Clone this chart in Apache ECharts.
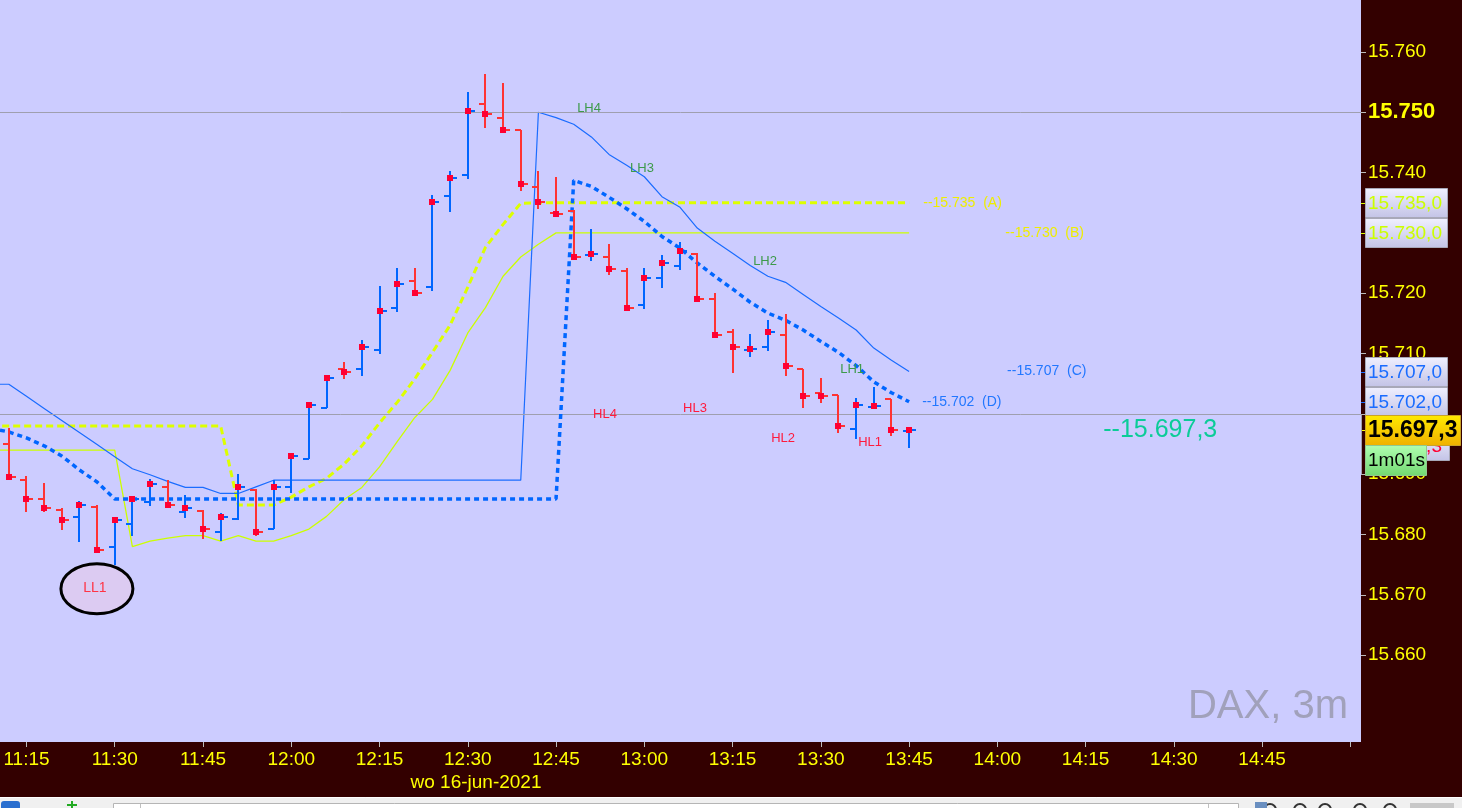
<!DOCTYPE html>
<html><head><meta charset="utf-8">
<script src="https://cdn.jsdelivr.net/npm/echarts@6/dist/echarts.min.js"></script>
<style>html,body{margin:0;padding:0;background:#330000;overflow:hidden}#c{width:1462px;height:808px}</style>
</head><body><div id="c"></div>
<script>
const FONT = '"Liberation Sans", Arial, sans-serif';

// ---- time axis (3-minute bars, bar 0 = 11:12) ----
const firstBarTime = '11:12';
const tickLabels = ['11:15','11:30','11:45','12:00','12:15','12:30','12:45','13:00','13:15','13:30','13:45','14:00','14:15','14:30','14:45'];
const extraTicks = ['15:00'];
const dateLabel = 'wo 16-jun-2021';

// ---- OHLC bars (DAX, 3m) ----
const barOpen  = [15695.0,15689.0,15685.9,15684.0,15682.9,15684.6,15678.0,15681.8,15685.4,15687.9,15683.8,15683.9,15680.4,15682.5,15687.4,15680.9,15687.9,15692.5,15700.9,15707.5,15707.5,15710.6,15717.6,15722.0,15721.0,15736.1,15739.6,15751.3,15749.1,15747.1,15737.6,15733.3,15733.6,15726.3,15726.0,15723.6,15718.0,15722.5,15724.5,15726.5,15719.0,15713.5,15710.5,15711.1,15713.1,15707.5,15703.4,15703.1,15697.5,15701.1,15702.4,15697.2];
const barHigh  = [15697.6,15689.7,15688.5,15684.4,15685.5,15684.9,15682.9,15686.2,15689.2,15689.1,15686.5,15684.0,15683.5,15690.1,15687.5,15689.1,15693.4,15701.4,15706.2,15708.6,15712.2,15721.2,15724.1,15724.1,15736.2,15740.2,15753.3,15756.3,15754.8,15747.1,15740.2,15739.2,15733.8,15730.7,15728.1,15724.1,15724.1,15726.4,15728.5,15726.6,15720.1,15714.1,15713.2,15715.6,15716.6,15707.5,15706.0,15703.1,15702.6,15704.4,15702.4,15697.4];
const barLow   = [15689.0,15683.8,15683.8,15680.7,15678.8,15676.9,15674.9,15679.7,15684.7,15684.5,15682.8,15679.3,15678.9,15682.4,15679.8,15680.9,15686.8,15692.5,15700.9,15705.8,15706.2,15710.0,15716.9,15720.0,15720.4,15733.5,15739.0,15747.4,15747.0,15737.0,15734.0,15732.7,15725.6,15725.4,15723.0,15717.1,15717.4,15720.9,15723.9,15718.7,15712.8,15706.8,15709.4,15710.4,15706.3,15700.9,15701.8,15696.9,15695.9,15700.9,15696.3,15694.3];
const barClose = [15689.6,15685.9,15684.4,15682.4,15684.9,15677.4,15682.4,15685.9,15688.3,15684.9,15684.4,15680.9,15682.9,15687.8,15680.4,15687.9,15693.0,15701.4,15705.9,15706.9,15711.1,15717.1,15721.5,15720.1,15735.1,15739.1,15750.2,15749.7,15747.1,15738.1,15735.1,15733.1,15726.0,15726.5,15724.0,15717.6,15722.5,15725.0,15727.0,15719.0,15713.1,15711.1,15710.7,15713.6,15708.0,15703.0,15703.0,15698.0,15701.5,15701.3,15697.3,15697.3];

// ---- indicator lines (value before bar 0, then one value per bar) ----
const upperLead = 15704.9;
const upperLine = [15704.9,15702.9,15700.9,15698.9,15696.9,15694.9,15692.9,15690.9,15689.9,15688.8,15687.8,15687.8,15686.8,15686.8,15687.9,
  15689.0,15689.0,15689.0,15689.0,15689.0,15689.0,15689.0,15689.0,15689.0,15689.0,15689.0,15689.0,15689.0,15689.0,15689.0,
  15750.0,15749.1,15748.0,15745.9,15743.0,15741.2,15739.3,15736.0,15734.3,15730.8,15728.6,15726.6,15724.6,15722.8,15721.8,15719.8,15717.8,15715.9,15713.9,15710.9,15708.9,15707.0];
const lowerLead = 15697.6;
const lowerLine = [15697.0,15696.0,15694.7,15693.0,15690.7,15688.7,15685.9,15685.9,15685.9,15685.9,15685.9,15685.9,15685.9,15685.9,15685.9,15685.9,
  15685.9,15685.9,15685.9,15685.9,15685.9,15685.9,15685.9,15685.9,15685.9,15685.9,15685.9,15685.9,15685.9,15685.9,15685.9,15685.9,
  15738.7,15737.7,15735.9,15734.0,15731.9,15729.4,15727.5,15725.0,15722.8,15720.7,15718.5,15716.7,15715.5,15713.9,15712.0,15710.2,15708.0,15705.3,15703.5,15702.0];
const yDashLead = 15698.0;
const yDashLine = [15698.0,15698.0,15698.0,15698.0,15698.0,15698.0,15698.0,15698.0,15698.0,15698.0,15698.0,15698.0,15698.0,
  15684.9,15684.9,15684.9,15686.2,15687.9,15689.3,15691.7,15694.7,15698.5,15701.9,15705.8,15710.2,15714.7,15721.0,15727.6,15731.4,15734.9,
  15735.0,15735.0,15735.0,15735.0,15735.0,15735.0,15735.0,15735.0,15735.0,15735.0,15735.0,15735.0,15735.0,15735.0,15735.0,15735.0,15735.0,15735.0,15735.0,15735.0,15735.0,15735.0];
const yThinLead = 15694.0;
const yThinLine = [15694.0,15694.0,15694.0,15694.0,15694.0,15694.0,15694.0,15678.0,15678.9,15679.4,15679.8,15679.8,15678.9,15679.8,15678.9,15678.9,
  15679.8,15680.9,15683.0,15685.8,15687.8,15691.2,15695.4,15699.4,15702.4,15707.2,15713.4,15717.6,15722.8,15726.0,15728.1,
  15730.0,15730.0,15730.0,15730.0,15730.0,15730.0,15730.0,15730.0,15730.0,15730.0,15730.0,15730.0,15730.0,15730.0,15730.0,15730.0,15730.0,15730.0,15730.0,15730.0,15730.0];

// ---- levels & annotations ----
const refLines = [15750, 15700];
const levelValues = [15735, 15730, 15707, 15702];
const levelNames = ['A', 'B', 'C', 'D'];
const levelTextAt = [51.8, 56.45, 56.55, 51.74];
const lastPrice = 15697.3;
const lastPriceTextAt = 62.0;
const hiddenBoxValue = 15694.7;
const hiddenBoxText = '15.694,3';
const timerText = '1m01s';
const swingNames = ['LH4','LH3','LH2','LH1','HL4','HL3','HL2','HL1'];
const swingIdx   = [32.87, 35.87, 42.84, 47.77, 33.77, 38.87, 43.86, 48.79];
const swingVal   = [15750.7, 15740.6, 15725.3, 15707.4, 15699.9, 15700.9, 15696.0, 15695.3];
const llName = 'LL1', llIdx = 4.99, llVal = 15671.0;
const yTickValues = [15660,15670,15680,15690,15700,15710,15720,15730,15740,15750,15760];
const instrument = 'DAX, 3m';

// ---- helpers ----
function toMin(t){const p=t.split(':').map(Number);return p[0]*60+p[1];}
function idxOf(t){return (toMin(t)-toMin(firstBarTime))/3;}
const tickIdx = tickLabels.map(idxOf);
const allTickIdx = tickIdx.concat(extraTicks.map(idxOf));
const labelByIdx = {}; tickLabels.forEach((t,k)=>{labelByIdx[tickIdx[k]]=t;});
function fmtDot(v){return (v/1000).toFixed(3);}
function boxStr(v){const s=(Math.round(v*10)/10).toFixed(1).split('.');return s[0].slice(0,2)+'.'+s[0].slice(2)+','+s[1];}
function withLead(lead, arr){return [[-1, lead]].concat(arr.map((v,i)=>[i,v]));}

const barData = barOpen.map((o,i)=>[i,o,barHigh[i],barLow[i],barClose[i]]);

const chart = echarts.init(document.getElementById('c'), null, {renderer:'canvas'});

const option = {
  backgroundColor:'#330000',
  animation:false,
  grid:{left:0, top:0, right:101, bottom:66, show:true, backgroundColor:'#ccccff', borderWidth:0},
  xAxis:{
    type:'value', min:-0.5, max:76.6,
    axisLine:{show:false, onZero:false}, splitLine:{show:false},
    axisTick:{show:true, customValues:allTickIdx, length:5, lineStyle:{color:'#bbbbbb', width:1}},
    axisLabel:{show:true, customValues:tickIdx, margin:8, color:'#ffff00', fontSize:19, fontFamily:FONT,
      formatter:v=>labelByIdx[v]||''}
  },
  yAxis:{
    type:'value', position:'right', min:15645.6, max:15768.6, scale:true,
    axisLine:{show:false, onZero:false}, splitLine:{show:false},
    axisTick:{show:true, customValues:yTickValues, length:5, lineStyle:{color:'#bbbbbb', width:1}},
    axisLabel:{show:true, customValues:yTickValues, margin:7, color:'#ffff00', fontSize:19, fontFamily:FONT,
      formatter:v=> v===15750 ? '{b|'+fmtDot(v)+'}' : fmtDot(v),
      rich:{b:{fontSize:22, fontWeight:'bold', color:'#ffff00', fontFamily:FONT}}}
  },
  series:[
    {type:'line', name:'ref', data:[], silent:true, z:1,
      markLine:{silent:true, symbol:['none','none'], label:{show:false},
        lineStyle:{color:'#9f9fae', width:1, type:'solid'},
        data:refLines.map(v=>({yAxis:v}))}},
    {type:'line', name:'yThin', data:withLead(yThinLead,yThinLine), showSymbol:false, clip:true, z:2,
      lineStyle:{color:'#ccff00', width:1.3}},
    {type:'line', name:'yDash', data:withLead(yDashLead,yDashLine), showSymbol:false, clip:true, z:3,
      lineStyle:{color:'#ddff00', width:3, type:[7,4]}},
    {type:'line', name:'upper', data:withLead(upperLead,upperLine), showSymbol:false, clip:true, z:4,
      lineStyle:{color:'#1a6cff', width:1.2}},
    {type:'line', name:'lower', data:withLead(lowerLead,lowerLine), showSymbol:false, clip:true, z:5,
      lineStyle:{color:'#0066ff', width:3.5, type:[5,4]}},
    {type:'custom', name:'bars', data:barData, z:10, clip:true,
      encode:{x:0, y:[1,2,3,4]},
      renderItem:function(params, api){
        const i=api.value(0), o=api.value(1), h=api.value(2), l=api.value(3), c=api.value(4);
        const ph=api.coord([i,h]), pl=api.coord([i,l]), po=api.coord([i,o]), pc=api.coord([i,c]);
        const x=Math.round(ph[0]);
        const col = c>=o ? '#0066ff' : '#ff3333';
        const yo=Math.round(po[1]), yc=Math.round(pc[1]);
        const yh=Math.round(ph[1]), yl=Math.round(pl[1]);
        return {type:'group', children:[
          {type:'rect', shape:{x:x-1, y:yh, width:2, height:Math.max(1,yl-yh)}, style:{fill:col}},
          {type:'rect', shape:{x:x-6, y:yo-1, width:6, height:2}, style:{fill:col}},
          {type:'rect', shape:{x:x, y:yc-1, width:7, height:2}, style:{fill:col}},
          {type:'rect', shape:{x:x-3, y:yc-3, width:6, height:6}, style:{fill:'#ff0033'}}
        ]};
      }}
  ]
};
chart.setOption(option);

function P(i,v){return chart.convertToPixel({gridIndex:0},[i,v]);}
function Y(v){return chart.convertToPixel({yAxisIndex:0}, v);}
function grad(a,b){return {type:'linear',x:0,y:0,x2:0,y2:1,colorStops:[{offset:0,color:a},{offset:1,color:b}]};}

const g = [];
// swing labels
swingNames.forEach((n,k)=>{
  const p=P(swingIdx[k], swingVal[k]);
  g.push({type:'text', x:p[0], y:p[1], z:20, silent:true,
    style:{text:n, fill: n.startsWith('LH') ? '#3d9a4a' : '#ff1a3c', font:'13px '+FONT, align:'center', verticalAlign:'middle'}});
});
// LL1 ellipse
{
  const p=P(llIdx, llVal);
  g.push({type:'ellipse', shape:{cx:p[0], cy:p[1], rx:36, ry:25}, z:20, silent:true,
    style:{fill:'#dccbf2', stroke:'#000000', lineWidth:3}});
  g.push({type:'text', x:p[0]-2, y:p[1]-1, z:21, silent:true,
    style:{text:llName, fill:'#ff3344', font:'14px '+FONT, align:'center', verticalAlign:'middle'}});
}
// level texts in plot
levelValues.forEach((v,k)=>{
  const p=P(levelTextAt[k], v);
  g.push({type:'text', x:p[0], y:p[1], z:20, silent:true,
    style:{text:'--'+fmtDot(v)+'  ('+levelNames[k]+')', fill: k<2 ? '#eeee00' : '#2277ff', font:'14px '+FONT, align:'left', verticalAlign:'middle'}});
});
{
  const p=P(lastPriceTextAt, lastPrice);
  g.push({type:'text', x:p[0], y:p[1], z:20, silent:true,
    style:{text:'--'+boxStr(lastPrice), fill:'#0bcc98', font:'25px '+FONT, align:'left', verticalAlign:'middle'}});
}
// instrument watermark
g.push({type:'text', x:1348, y:707, z:5, silent:true,
  style:{text:instrument, fill:'#a1a1bb', font:'40px '+FONT, align:'right', verticalAlign:'middle'}});
// date label
g.push({type:'text', x:476, y:783, z:20, silent:true,
  style:{text:dateLabel, fill:'#ffff00', font:'19px '+FONT, align:'center', verticalAlign:'middle'}});

// right axis boxes
function box(yc, x0, x1, h, fill, stroke, text, color, font, z){
  const top=Math.round(yc-h/2);
  g.push({type:'rect', shape:{x:x0+0.5, y:top+0.5, width:x1-x0, height:h}, z:z, silent:true,
    style:{fill:fill, stroke:stroke, lineWidth:1}});
  g.push({type:'text', x:x0+3, y:top+h/2+1, z:z+1, silent:true,
    style:{text:text, fill:color, font:font, align:'left', verticalAlign:'middle'}});
  return top+h;
}
const lav = grad('#f0f0ff','#c3c3e6');
// colored ticks for levels
levelValues.forEach((v,k)=>{
  const y=Math.round(Y(v))+0.5;
  g.push({type:'line', shape:{x1:1361, y1:y, x2:1366, y2:y}, z:30, silent:true, style:{stroke:k<2?'#ddff00':'#1a6cff', lineWidth:1}});
});
{
  const y=Math.round(Y(lastPrice))+0.5;
  g.push({type:'line', shape:{x1:1361, y1:y, x2:1366, y2:y}, z:30, silent:true, style:{stroke:'#ffff00', lineWidth:1}});
  const y1=Math.round(Y(15700))+0.5, y2=Math.round(Y(15690))+0.5;
  g.push({type:'line', shape:{x1:1361.5, y1:y1, x2:1361.5, y2:y2}, z:30, silent:true, style:{stroke:'#9f9fae', lineWidth:1}});
}
box(Y(levelValues[0]), 1365, 1447, 29, lav, '#a8a8b8', boxStr(levelValues[0]), '#ccff00', '19px '+FONT, 40);
box(Y(levelValues[1]), 1365, 1447, 29, lav, '#a8a8b8', boxStr(levelValues[1]), '#ccff00', '19px '+FONT, 42);
box(Y(levelValues[2]), 1365, 1447, 29, lav, '#a8a8b8', boxStr(levelValues[2]), '#1a6cff', '19px '+FONT, 44);
box(Y(levelValues[3]), 1365, 1447, 29, lav, '#a8a8b8', boxStr(levelValues[3]), '#1a6cff', '19px '+FONT, 46);
box(Y(hiddenBoxValue), 1365, 1449, 28, lav, '#a8a8b8', hiddenBoxText, '#ff0033', '19px '+FONT, 48);
const goldBottom = box(Y(lastPrice), 1365, 1460, 30, grad('#ffea00','#f0b000'), '#c9a227', boxStr(lastPrice), '#000000', 'bold 23px '+FONT, 50);
box(goldBottom+15, 1365, 1426, 30, grad('#b0ffb0','#72d872'), '#8fc98f', timerText, '#000000', '19px '+FONT, 52);

// bottom toolbar strip
g.push({type:'rect', shape:{x:0, y:797, width:1462, height:11}, z:60, silent:true, style:{fill:'#f0f0f0'}});
g.push({type:'line', shape:{x1:0, y1:797.5, x2:1462, y2:797.5}, z:61, silent:true, style:{stroke:'#ffffff', lineWidth:1}});
g.push({type:'rect', shape:{x:1, y:801, width:19, height:9, r:3}, z:61, silent:true, style:{fill:'#2a6fcf'}});
g.push({type:'rect', shape:{x:71, y:801, width:2, height:7}, z:61, silent:true, style:{fill:'#22aa22'}});
g.push({type:'rect', shape:{x:67, y:804, width:10, height:2}, z:61, silent:true, style:{fill:'#22aa22'}});
g.push({type:'rect', shape:{x:113.5, y:803.5, width:1125, height:8}, z:61, silent:true, style:{fill:'#ffffff', stroke:'#b5b5b5', lineWidth:1}});
g.push({type:'line', shape:{x1:140.5, y1:804, x2:140.5, y2:808}, z:62, silent:true, style:{stroke:'#c0c0c0'}});
g.push({type:'line', shape:{x1:1208.5, y1:804, x2:1208.5, y2:808}, z:62, silent:true, style:{stroke:'#c0c0c0'}});
[1270,1300,1325,1360,1390].forEach(x=>{
  g.push({type:'circle', shape:{cx:x, cy:810, r:6}, z:61, silent:true, style:{fill:'none', stroke:'#333333', lineWidth:2}});
});
g.push({type:'rect', shape:{x:1255, y:802, width:12, height:6}, z:61, silent:true, style:{fill:'#6a8fc0'}});
g.push({type:'rect', shape:{x:1410, y:803, width:44, height:5}, z:61, silent:true, style:{fill:'#c8c8c8'}});

chart.setOption({graphic:{elements:g}});
</script>
</body></html>
